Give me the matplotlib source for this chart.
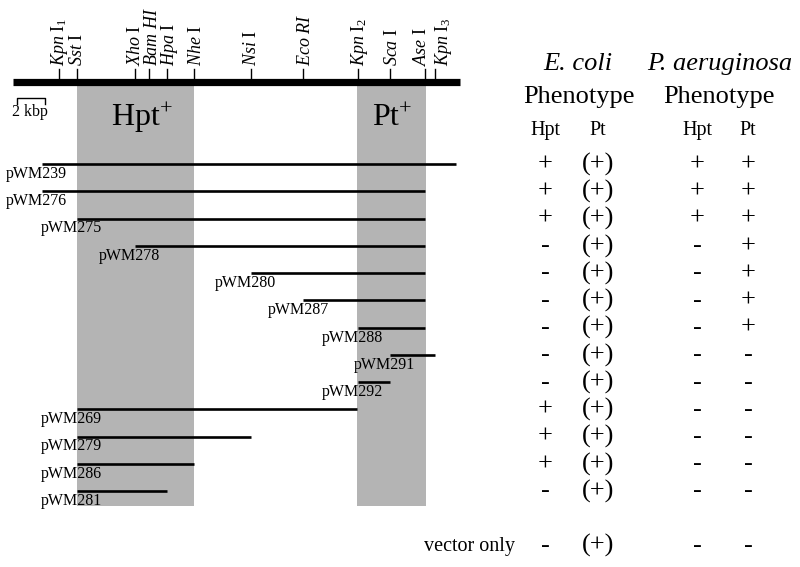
import matplotlib
matplotlib.use("Agg")
import matplotlib.pyplot as plt
from matplotlib.patches import Rectangle

plt.rcParams['font.family'] = ['Liberation Serif', 'DejaVu Serif']
plt.rcParams['mathtext.fontset'] = 'custom'
plt.rcParams['mathtext.rm'] = 'Liberation Serif'
plt.rcParams['mathtext.it'] = 'Liberation Serif:italic'
plt.rcParams['mathtext.bf'] = 'Liberation Serif:bold'

# ---------------- data ----------------
map_length_kb = 31.93
site_labels = [r"$\mathit{Kpn}\ \mathrm{I}_{1}$", r"$\mathit{Sst}\ \mathrm{I}$", r"$\mathit{Xho}\ \mathrm{I}$",
               r"$\mathit{Bam\ HI}$", r"$\mathit{Hpa}\ \mathrm{I}$", r"$\mathit{Nhe}\ \mathrm{I}$",
               r"$\mathit{Nsi}\ \mathrm{I}$", r"$\mathit{Eco\ RI}$", r"$\mathit{Kpn}\ \mathrm{I}_{2}$",
               r"$\mathit{Sca}\ \mathrm{I}$", r"$\mathit{Ase}\ \mathrm{I}$", r"$\mathit{Kpn}\ \mathrm{I}_{3}$"]
site_kb = [3.31, 4.59, 8.69, 9.69, 10.98, 12.91, 16.98, 20.74, 24.62, 26.93, 29.41, 30.14]

regions = ["Hpt", "Pt"]
region_start = [4.59, 24.55]
region_end = [12.93, 29.50]

clones = ["pWM239", "pWM276", "pWM275", "pWM278", "pWM280", "pWM287", "pWM288",
          "pWM291", "pWM292", "pWM269", "pWM279", "pWM286", "pWM281"]
clone_start = [2.05, 2.05, 4.59, 8.69, 16.98, 20.74, 24.62, 26.93, 24.62, 4.59, 4.59, 4.59, 4.59]
clone_end = [31.64, 29.41, 29.41, 29.41, 29.41, 29.41, 29.41, 30.14, 26.93, 24.55, 16.98, 12.91, 10.98]

ecoli_hpt = ["+", "+", "+", "-", "-", "-", "-", "-", "-", "+", "+", "+", "-", "-"]
ecoli_pt = ["(+)"] * 14
paer_hpt = ["+", "+", "+", "-", "-", "-", "-", "-", "-", "-", "-", "-", "-", "-"]
paer_pt = ["+", "+", "+", "+", "+", "+", "+", "-", "-", "-", "-", "-", "-", "-"]
row_labels = clones + ["vector only"]
scale_kb = 2

# ---------------- layout ----------------
W, H = 800, 567
fig = plt.figure(figsize=(8, 5.67), dpi=100)
ax = fig.add_axes([0, 0, 1, 1])
PX_PER_KB = 14.0
X0 = 13.0
ax.set_xlim(-X0 / PX_PER_KB, (W - X0) / PX_PER_KB)
ax.set_ylim(H, 0)
ax.axis('off')

ax2 = fig.add_axes([0, 0, 1, 1], sharey=ax)
ax2.set_xlim(0, W)
ax2.patch.set_alpha(0)
ax2.axis('off')

MAP_Y = 81.5
ROW0 = 164.0
ROWH = 27.25
row_y = [ROW0 + ROWH * (i if i < 13 else 14) for i in range(14)]

# label nudges (pixels) for crowded site labels
site_label_dx = [0.5, 0.5, 0.5, 4, 3, 3, 0.5, 2, 2, 2, -3, 9]
region_label_dx = [6.5, 1.0]

# grey regions
for s, e, name, dx in zip(region_start, region_end, regions, region_label_dx):
    ax.add_patch(Rectangle((s, 85), e - s, 421, facecolor='#b4b4b4', edgecolor='none', zorder=0))
    ax.text((s + e) / 2 + dx / PX_PER_KB, 126, name + r"$^{+}$", fontsize=23,
            ha='center', va='baseline', zorder=3)

# map bar
ax.plot([0, map_length_kb], [MAP_Y, MAP_Y], color='black', lw=5.2, solid_capstyle='butt', zorder=4)
for kb, lab, dx in zip(site_kb, site_labels, site_label_dx):
    ax.plot([kb, kb], [68.5, MAP_Y], color='black', lw=1.0, zorder=4)
    ax.text(kb + dx / PX_PER_KB, 66.5, lab, rotation=90, fontsize=13, ha='center', va='bottom')

# scale bar
sx = 0.29
ax.plot([sx, sx, sx + scale_kb, sx + scale_kb], [104, 97.5, 97.5, 104], color='black', lw=1.0)
ax.text(sx + scale_kb / 2 - 0.1, 116.5, f"{scale_kb} kbp", fontsize=11.5, ha='center', va='baseline')

# clones
for i, (name, s, e) in enumerate(zip(clones, clone_start, clone_end)):
    y = row_y[i]
    ax.plot([s, e], [y, y], color='black', lw=1.9, solid_capstyle='butt', zorder=4)
    ax.text(s - 36 / PX_PER_KB, y + 14, name, fontsize=11.5, ha='left', va='baseline', zorder=5)

# table headers
ax2.text(578, 70, "E. coli", fontsize=19, style='italic', ha='center', va='baseline')
ax2.text(720, 70, "P. aeruginosa", fontsize=19, style='italic', ha='center', va='baseline')
ax2.text(579, 103, "Phenotype", fontsize=19, ha='center', va='baseline')
ax2.text(719, 103, "Phenotype", fontsize=19, ha='center', va='baseline')
col_x = [545, 598, 697, 748]
for x, lab in zip(col_x, ["Hpt", "Pt", "Hpt", "Pt"]):
    ax2.text(x, 135, lab, fontsize=14.5, ha='center', va='baseline')

# table body
for i in range(14):
    y = row_y[i] + 6.5
    for x, col in zip(col_x, [ecoli_hpt, ecoli_pt, paer_hpt, paer_pt]):
        ax2.text(x, y, col[i], fontsize=19, ha='center', va='baseline')
ax2.text(424, row_y[13] + 6, row_labels[13], fontsize=14.5, ha='left', va='baseline')

fig.savefig("out.png", dpi=100)
